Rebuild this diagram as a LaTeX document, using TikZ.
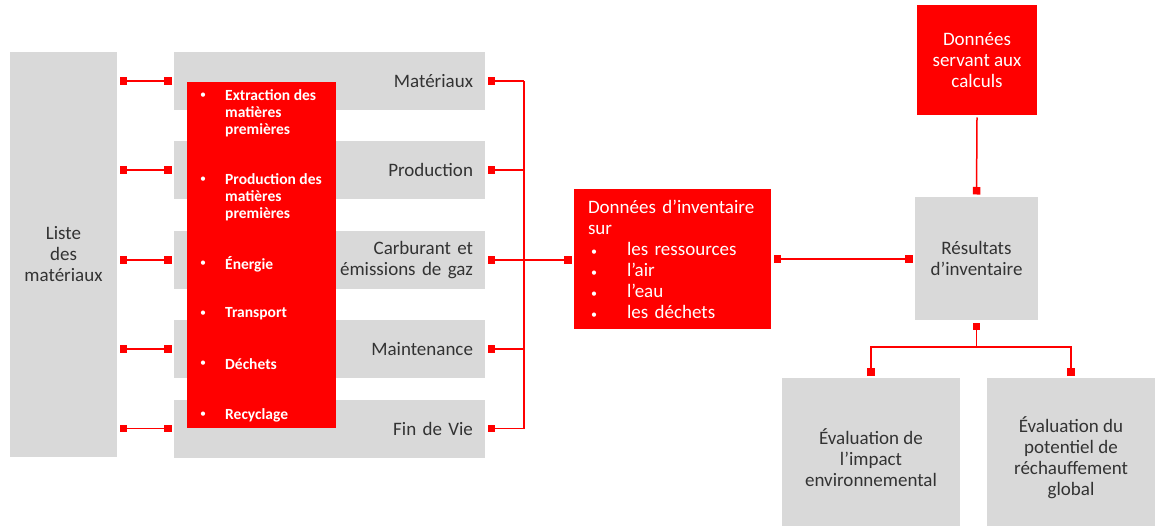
\documentclass[tikz,border=0pt]{standalone}
\usepackage{fontspec}
\setmainfont{Carlito}
\usetikzlibrary{arrows.meta, positioning}
\definecolor{rouge}{HTML}{FF0000}
\definecolor{gris}{HTML}{D9D9D9}
\definecolor{texte}{HTML}{333333}
\newcommand{\puce}{\makebox[39pt][l]{\hspace{3pt}{\fontsize{12}{12}\selectfont\textbullet}}}

\begin{document}
\begin{tikzpicture}[x=1pt, y=-1pt]
\tikzset{
  boite/.style={fill=gris, text=texte, inner sep=0pt, outer sep=2.5pt, font=\fontsize{19}{21}\selectfont},
  etape/.style={boite, minimum width=311pt, minimum height=58pt, text width=287pt, align=right, inner xsep=12pt},
  boite rouge/.style={fill=rouge, text=white, inner sep=0pt, outer sep=2.5pt, font=\fontsize{19}{21}\selectfont},
  liste puce/.style={text=white, inner sep=0pt, font=\fontsize{12}{17}\selectfont},
  liste item/.style={text=white, inner sep=0pt, align=left, font=\bfseries\fontsize{15.5}{17}\selectfont},
  lien/.style={rouge, line width=1.5pt, >={Square[length=7.5pt,width=7.5pt]}}
}

\path[use as bounding box, clip] (0,0) rectangle (1155,526);

\node[boite, minimum width=107pt, minimum height=405pt, align=center] (liste) at (63.5,254.5) {Liste\\des\\matériaux};
\node[etape] (mat) at (329.5,81) {Matériaux};
\node[etape] (prod) at (329.5,170) {Production};
\node[etape] (carb) at (329.5,260) {Carburant et\\émissions de gaz};
\node[etape] (maint) at (329.5,349) {Maintenance};
\node[etape] (fin) at (329.5,428.5) {Fin de Vie};

\node[boite rouge, minimum width=149pt, minimum height=346pt] (phases) at (261.5,255) {};
\foreach \yb/\yc/\txt [count=\i] in {96/113/{Extraction des\\matières\\premières}, 180/197/{Production des\\matières\\premières}, 264/264/Énergie, 314/314/Transport, 364/364/Déchets, 415/415/Recyclage} {
  \node[liste puce] (puce\i) at (203,\yb) {\textbullet};
  \node[liste item, anchor=west] (item\i) at (225,\yc) {\txt};
}

\node[boite rouge, minimum width=197pt, minimum height=140pt, text width=169pt, inner xsep=14pt, align=left] (inv) at (672.5,259)
  {Données d’inventaire\\sur\\\puce les ressources\\\puce l’air\\\puce l’eau\\\puce les déchets};

\node[boite rouge, minimum width=120pt, minimum height=110pt, align=center] (calc) at (977,60) {Données\\servant aux\\calculs};
\node[boite, minimum width=123pt, minimum height=123pt, align=center] (res) at (976.5,258.5) {Résultats\\d’inventaire};
\node[boite, minimum width=178pt, minimum height=160pt, align=center] (eimp) at (871,458) {Évaluation de\\l’impact\\environnemental};
\node[boite, minimum width=168pt, minimum height=160pt, align=center] (eglob) at (1071,458) {Évaluation du\\potentiel de\\réchauffement\\global};

\foreach \b in {mat,prod,carb,maint,fin}
  \draw[lien,<->] (liste.east |- \b.west) -- (\b.west);

\coordinate (bus) at (524,0);
\foreach \b in {mat,prod,maint,fin}
  \draw[lien,<-] (\b.east) -- (\b.east -| bus);
\draw[lien] (bus |- mat.east) -- (bus |- fin.east);
\draw[lien,<->] (carb.east) -- (carb.east -| inv.west);
\draw[lien,<->] (inv.east) -- (inv.east -| res.west);

\draw[lien,->] (calc.south) -- (res.north);
\coordinate (split) at (976.5,347);
\draw[lien,<-] (res.south) -- (split);
\draw[lien,->] (split) -| (eimp.north);
\draw[lien,->] (split) -| (eglob.north);
\end{tikzpicture}
\end{document}
